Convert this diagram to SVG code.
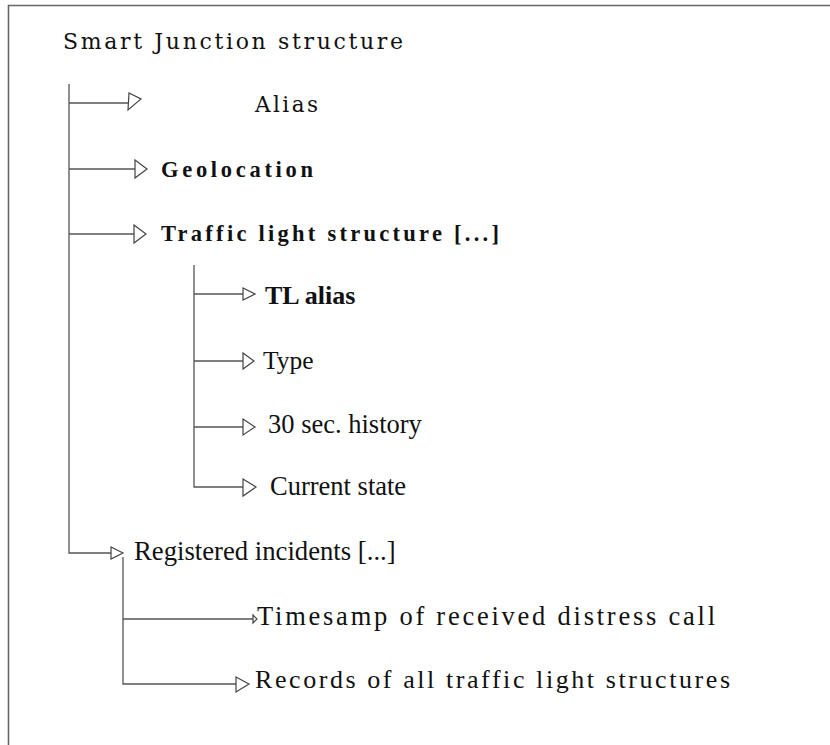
<svg xmlns="http://www.w3.org/2000/svg" width="830" height="745" viewBox="0 0 830 745">
<style>
.frame{fill:none;stroke:#666;stroke-width:1.6}
.ln{fill:none;stroke:#555;stroke-width:1.3}
.ah{fill:#fff;stroke:#444;stroke-width:1.2;stroke-linejoin:miter}
.t{font-family:"Liberation Serif","Times New Roman",serif;fill:#111}
.d{font-family:"DejaVu Serif","Liberation Serif",serif;fill:#111}
.b{font-weight:bold}
</style>
<rect width="830" height="745" fill="#fff"/>
<path class="frame" d="M8.5,745 V5.5 H830"/>
<g id="title"><text class="d" x="63" y="49" font-size="22" textLength="340" lengthAdjust="spacing">Smart Junction structure</text></g>
<g id="connectors">
<path class="ln" d="M69,84 V553 H111"/>
<path class="ln" d="M69,103 H129"/>
<path class="ln" d="M69,169 H135"/>
<path class="ln" d="M69,234 H134"/>
<path class="ln" d="M194,265 V487 H243"/>
<path class="ln" d="M194,294 H243"/>
<path class="ln" d="M194,361 H243"/>
<path class="ln" d="M194,427 H243"/>
<path class="ln" d="M123,557 V684 H236"/>
<path class="ln" d="M123,619 H253"/>
<polygon class="ah" points="129,93 141,99 128,110"/>
<polygon class="ah" points="135,160 147,169 135,178"/>
<polygon class="ah" points="134,225 146,234 134,243"/>
<polygon class="ah" points="243,288 255,294 243,300"/>
<polygon class="ah" points="243,353 254,361 243,369"/>
<polygon class="ah" points="243,419 255,427 243,435"/>
<polygon class="ah" points="243,479 256,487 243,496"/>
<polygon class="ah" points="111,547 123,553 111,559"/>
<polygon class="ah" points="253,615 257,619 253,623"/>
<polygon class="ah" points="236,677 249,684 236,692"/>
</g>
<g id="alias"><text class="d" x="255" y="112" font-size="21.5" textLength="63" lengthAdjust="spacing">Alias</text></g>
<g id="geolocation"><text class="t b" x="161" y="177" font-size="22.5" textLength="152" lengthAdjust="spacing">Geolocation</text></g>
<g id="traffic-light"><text class="t b" x="161" y="241" font-size="22.5" textLength="338" lengthAdjust="spacing">Traffic light structure [...]</text></g>
<g id="tl-alias"><text class="t b" x="265" y="304" font-size="26">TL alias</text></g>
<g id="type"><text class="t" x="263" y="369" font-size="25.5">Type</text></g>
<g id="history"><text class="t" x="268" y="433" font-size="26.5">30 sec. history</text></g>
<g id="current-state"><text class="t" x="270" y="495" font-size="26.5">Current state</text></g>
<g id="incidents"><text class="t" x="134" y="560" font-size="26.7">Registered incidents [...]</text></g>
<g id="timestamp"><text class="t" x="257" y="625" font-size="26.5" textLength="458" lengthAdjust="spacing">Timesamp of received distress call</text></g>
<g id="records"><text class="t" x="255" y="688" font-size="26" textLength="475" lengthAdjust="spacing">Records of all traffic light structures</text></g>
</svg>
